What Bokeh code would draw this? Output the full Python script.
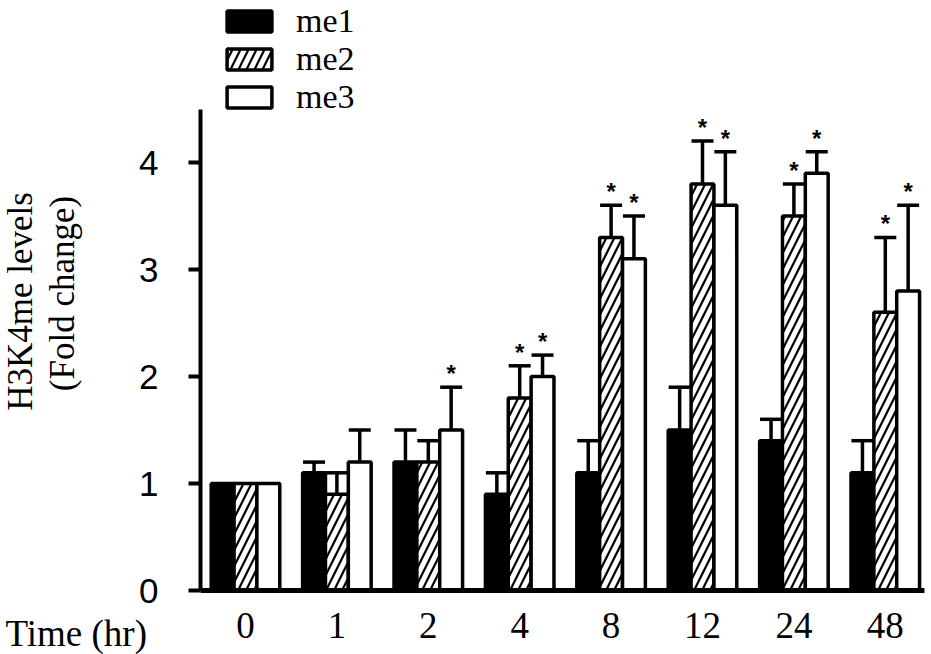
import numpy as np
from bokeh.plotting import figure
from bokeh.models import (ColumnDataSource, Legend, LegendItem, Label, Whisker,
                          TeeHead, FixedTicker)
from bokeh.core.properties import value
from bokeh.embed import file_html
from bokeh.resources import INLINE

# ---- data ----
times = ["0", "1", "2", "4", "8", "12", "24", "48"]
me1 = [1.0, 1.1, 1.2, 0.9, 1.1, 1.5, 1.4, 1.1]
me1_upper = [1.0, 1.2, 1.5, 1.1, 1.4, 1.9, 1.6, 1.4]
me2 = [1.0, 0.9, 1.2, 1.8, 3.3, 3.8, 3.5, 2.6]
me2_upper = [1.0, 1.1, 1.4, 2.1, 3.6, 4.2, 3.8, 3.3]
me3 = [1.0, 1.2, 1.5, 2.0, 3.1, 3.6, 3.9, 2.8]
me3_upper = [1.0, 1.5, 1.9, 2.2, 3.5, 4.1, 4.1, 3.6]
me1_sig = [0, 0, 0, 0, 0, 0, 0, 0]
me2_sig = [0, 0, 0, 1, 1, 1, 1, 1]
me3_sig = [0, 0, 1, 1, 1, 1, 1, 1]
y_ticks = [0, 1, 2, 3, 4]

SERIF = "Liberation Serif"
SANS = "Liberation Sans"

W, H = 931, 654
XPX, X0PX = 91.4, 245.0      # px per group, page x of first group
YPX, Y0PX = 107.0, 590.0     # px per unit, page y of value 0
x_start = -X0PX / XPX
x_end = x_start + W / XPX
y_end = Y0PX / YPX
y_start = -(H - Y0PX) / YPX
x_axis_left = (200 - X0PX) / XPX
x_axis_right = (924 - X0PX) / XPX

p = figure(width=W, height=H, x_range=(x_start, x_end), y_range=(y_start, y_end),
           output_backend="svg", toolbar_location=None, min_border=0)
p.min_border_left = p.min_border_right = p.min_border_top = p.min_border_bottom = 0
p.outline_line_color = None
p.grid.grid_line_color = None
p.background_fill_color = "white"
p.border_fill_color = "white"

idx = np.arange(len(times))
offsets = [-0.25, 0.0, 0.25]
series = [
    ("me1", me1, me1_upper, me1_sig, dict(fill_color="black")),
    ("me2", me2, me2_upper, me2_sig, dict(fill_color="white", hatch_pattern="/",
                                          hatch_color="black", hatch_scale=16,
                                          hatch_weight=2.2)),
    ("me3", me3, me3_upper, me3_sig, dict(fill_color="white")),
]

items = []
for (name, vals, ups, sig, style), off in zip(series, offsets):
    xs = idx + off
    src = ColumnDataSource(dict(x=xs, top=vals))
    r = p.vbar(x="x", top="top", width=0.25, source=src, line_color="black",
               line_width=3.5, **style)
    items.append(LegendItem(label=name, renderers=[r]))
    ex = [x for x, v, u in zip(xs, vals, ups) if u > v]
    ev = [v for v, u in zip(vals, ups) if u > v]
    eu = [u for v, u in zip(vals, ups) if u > v]
    esrc = ColumnDataSource(dict(x=ex, lower=ev, upper=eu))
    w = Whisker(base="x", lower="lower", upper="upper", source=esrc,
                dimension="height", line_width=3.5, line_color="black",
                upper_head=TeeHead(size=22, line_width=3.5, line_color="black"),
                lower_head=None, level="underlay")
    p.add_layout(w)
    sx = [x for x, s in zip(xs, sig) if s]
    sy = [u for u, s in zip(ups, sig) if s]
    if sx:
        ssrc = ColumnDataSource(dict(x=sx, y=sy, t=["*"] * len(sx)))
        p.text(x="x", y="y", text="t", source=ssrc, text_align="center",
               text_baseline="bottom", text_font=value(SANS),
               text_font_style="bold", text_font_size="24px",
               text_color="black")

legend = Legend(items=items, location=(221, 654 - 2 - 114), padding=0, margin=0,
                spacing=0, glyph_width=56, glyph_height=26, label_standoff=19,
                label_text_font=SERIF, label_text_font_size="34px",
                label_text_color="black",
                border_line_alpha=0, background_fill_alpha=0)
p.add_layout(legend, "center")

# axes drawn at fixed data locations inside the full-canvas frame
xa = p.xaxis[0]
xa.fixed_location = 0
xa.bounds = (x_axis_left, x_axis_right)
xa.ticker = FixedTicker(ticks=list(idx))
xa.major_label_overrides = {int(i): t for i, t in zip(idx, times)}
xa.major_tick_line_color = None
xa.major_tick_out = 0
xa.major_tick_in = 0
xa.minor_tick_line_color = None
xa.axis_line_width = 5
xa.axis_line_color = "black"
xa.major_label_text_font = SERIF
xa.major_label_text_font_size = "37px"
xa.major_label_standoff = 22
xa.major_label_text_color = "black"

ya = p.yaxis[0]
ya.fixed_location = x_axis_left
ya.bounds = (0, 4.5)
ya.ticker = FixedTicker(ticks=y_ticks)
ya.major_tick_out = 12
ya.major_tick_in = 0
ya.major_tick_line_width = 4
ya.major_tick_line_color = "black"
ya.minor_tick_line_color = None
ya.axis_line_width = 4
ya.axis_line_color = "black"
ya.major_label_text_font = SANS
ya.major_label_text_font_size = "35px"
ya.major_label_standoff = 30
ya.major_label_text_color = "black"

p.add_layout(Label(x=20, y=H - 301, x_units="screen", y_units="screen",
                   text="H3K4me levels", angle=np.pi / 2, text_align="center",
                   text_baseline="middle", text_font=SERIF,
                   text_font_size="35px", text_color="black"))
p.add_layout(Label(x=62, y=H - 293, x_units="screen", y_units="screen",
                   text="(Fold change)", angle=np.pi / 2, text_align="center",
                   text_baseline="middle", text_font=SERIF,
                   text_font_size="35px", text_color="black"))
p.add_layout(Label(x=5, y=H - 633, x_units="screen", y_units="screen",
                   text="Time (hr)", text_align="left", text_baseline="middle",
                   text_font=SERIF, text_font_size="37px", text_color="black"))

open("out.html", "w").write(file_html(p, INLINE))
